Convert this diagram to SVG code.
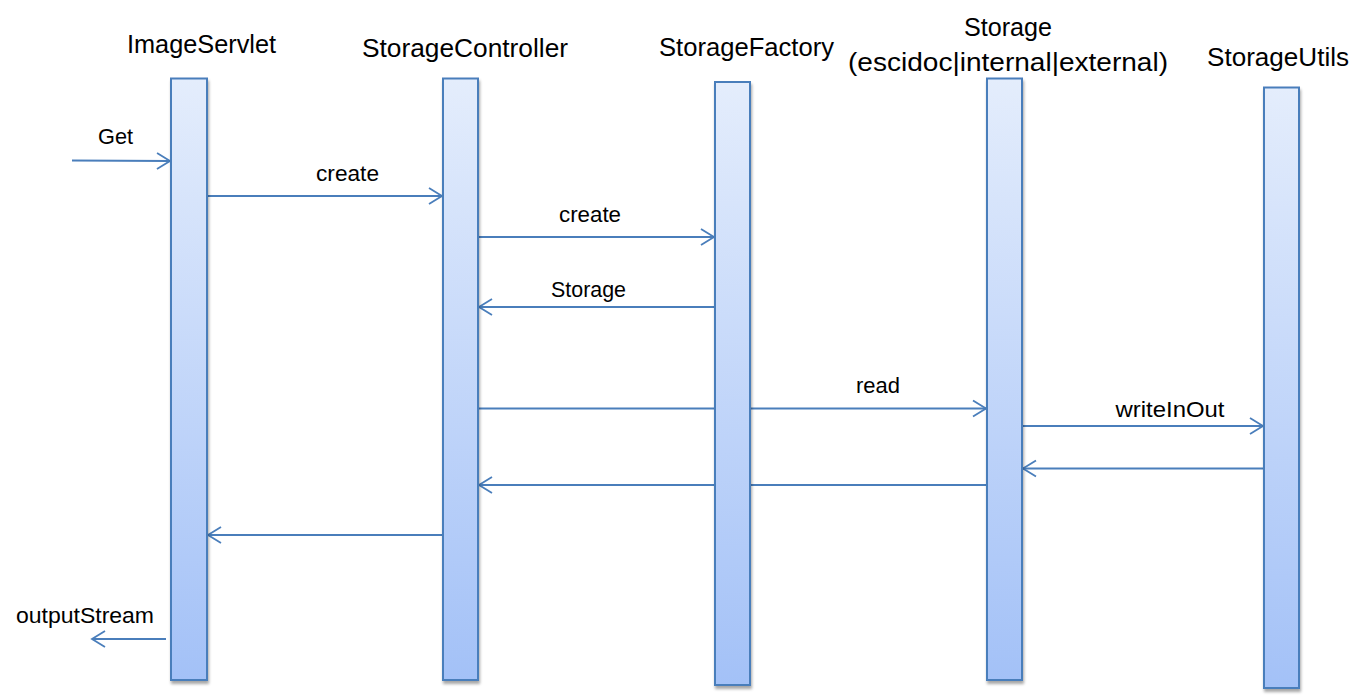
<svg xmlns="http://www.w3.org/2000/svg" width="1369" height="700" viewBox="0 0 1369 700">
<style>
.hdr{font-family:"Liberation Sans",Arial,sans-serif;font-size:25px;fill:#000;text-anchor:middle}
.lbl{font-family:"Liberation Sans",Arial,sans-serif;font-size:22.5px;fill:#000;text-anchor:middle}
.bar{fill:url(#g);stroke:#4A7EBB;stroke-width:2;filter:url(#sh)}
.msg{fill:none;stroke:#4A7EBB;stroke-width:1.8;marker-end:url(#ah)}
</style>
<defs>
<linearGradient id="g" x1="0" y1="0" x2="0" y2="1">
<stop offset="0" stop-color="#E4EDFC"/>
<stop offset="1" stop-color="#A3C1F7"/>
</linearGradient>
<filter id="sh" x="-30%" y="-5%" width="160%" height="110%">
<feGaussianBlur in="SourceAlpha" stdDeviation="1.5"/>
<feOffset dx="1" dy="3" result="b"/>
<feComponentTransfer><feFuncA type="linear" slope="0.35"/></feComponentTransfer>
<feMerge><feMergeNode/><feMergeNode in="SourceGraphic"/></feMerge>
</filter>
<marker id="ah" viewBox="0 0 16 20" refX="14" refY="10" markerWidth="16" markerHeight="20" markerUnits="userSpaceOnUse" orient="auto">
<path d="M1,2 L14,10 L1,18" fill="none" stroke="#4A7EBB" stroke-width="1.8"/>
</marker>
</defs>
<rect width="1369" height="700" fill="#fff"/>
<g id="connectors">
<line class="msg" x1="72" y1="160.5" x2="170" y2="161"/>
<line class="msg" x1="207" y1="196" x2="442" y2="196"/>
<line class="msg" x1="476" y1="237" x2="714" y2="237"/>
<line class="msg" x1="714" y1="307" x2="479" y2="307"/>
<line class="msg" x1="478" y1="408.5" x2="986" y2="408.5"/>
<line class="msg" x1="1022" y1="426" x2="1263" y2="426"/>
<line class="msg" x1="1264" y1="468.5" x2="1023" y2="468.5"/>
<line class="msg" x1="987" y1="485" x2="479" y2="485"/>
<line class="msg" x1="443" y1="535" x2="208" y2="535"/>
<line class="msg" x1="166" y1="639" x2="92" y2="639"/>
</g>
<g id="labels">
<text class="lbl" x="115.5" y="144" textLength="35" lengthAdjust="spacingAndGlyphs">Get</text>
<text class="lbl" x="347.5" y="181" textLength="63" lengthAdjust="spacingAndGlyphs">create</text>
<text class="lbl" x="590" y="221.5" textLength="62" lengthAdjust="spacingAndGlyphs">create</text>
<text class="lbl" x="588.5" y="296.5" textLength="75" lengthAdjust="spacingAndGlyphs">Storage</text>
<text class="lbl" x="878" y="393" textLength="44" lengthAdjust="spacingAndGlyphs">read</text>
<text class="lbl" x="1170" y="416.5" textLength="109" lengthAdjust="spacingAndGlyphs">writeInOut</text>
<text class="lbl" x="85" y="623" textLength="138" lengthAdjust="spacingAndGlyphs">outputStream</text>
</g>
<g id="ImageServlet">
<text class="hdr" x="201.5" y="53" textLength="149" lengthAdjust="spacingAndGlyphs">ImageServlet</text>
<rect class="bar" x="171" y="78.5" width="36" height="601.5"/>
</g>
<g id="StorageController">
<text class="hdr" x="465" y="57" textLength="206" lengthAdjust="spacingAndGlyphs">StorageController</text>
<rect class="bar" x="443" y="78.5" width="35" height="601.5"/>
</g>
<g id="StorageFactory">
<text class="hdr" x="746.5" y="56" textLength="175" lengthAdjust="spacingAndGlyphs">StorageFactory</text>
<rect class="bar" x="715" y="82" width="35" height="603"/>
</g>
<g id="Storage">
<text class="hdr" x="1008" y="35.5" textLength="88" lengthAdjust="spacingAndGlyphs">Storage</text>
<text class="hdr" x="1008" y="71" textLength="320" lengthAdjust="spacingAndGlyphs">(escidoc|internal|external)</text>
<rect class="bar" x="987" y="78.5" width="35" height="601.5"/>
</g>
<g id="StorageUtils">
<text class="hdr" x="1278" y="65.5" textLength="142" lengthAdjust="spacingAndGlyphs">StorageUtils</text>
<rect class="bar" x="1264" y="87.5" width="35" height="600.5"/>
</g>
</svg>
